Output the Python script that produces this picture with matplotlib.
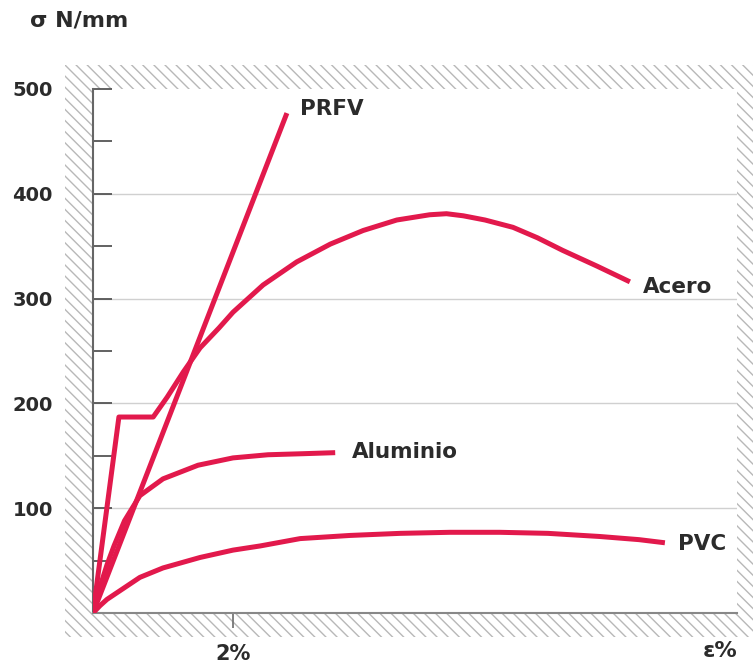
import matplotlib
matplotlib.use('Agg')
import matplotlib.pyplot as plt
import matplotlib.patches as mpatches

# ==========================================
# DATA (strain %, stress N/mm2)
# ==========================================
prfv_x = [0, 2.77]
prfv_y = [0, 477]

acero_x = [0, 0.37, 0.86, 1.06, 1.29, 1.53, 1.8, 2.0, 2.43, 2.91, 3.39, 3.86,
           4.34, 4.81, 5.05, 5.29, 5.6, 6.0, 6.35, 6.71, 7.2, 7.67]
acero_y = [0, 187, 187, 206, 230, 253, 272, 287, 313, 335, 352, 365,
           375, 380, 381, 379, 375, 368, 358, 346, 331, 316]

alu_x = [0, 0.1, 0.2, 0.3, 0.45, 0.67, 1.0, 1.5, 2.0, 2.5, 3.0, 3.46]
alu_y = [0, 25, 46, 64, 88, 112, 128, 141, 148, 151, 152, 153]

pvc_x = [0, 0.1, 0.2, 0.67, 1.0, 1.53, 2.0, 2.39, 2.96, 3.67, 4.39, 5.1,
         5.81, 6.5, 7.24, 7.8, 8.17]
pvc_y = [0, 7, 13, 34, 43, 53, 60, 64, 71, 74, 76, 77,
         77, 76, 73, 70, 67]

labels = ['PRFV', 'Acero', 'Aluminio', 'PVC']
label_pos = [(2.95, 481), (7.85, 311), (3.7, 154), (8.35, 66)]

RED = '#e2194c'
TXT = '#2b2b2b'

# ==========================================
# FIGURE
# ==========================================
plt.rcParams['hatch.color'] = '#b8b8b8'
plt.rcParams['hatch.linewidth'] = 1.0

W, H = 753, 664
fig = plt.figure(figsize=(W / 100, H / 100), dpi=100)
L, R, T, B = 93, 737, 89, 613
ax = fig.add_axes([L / W, (H - B) / H, (R - L) / W, (B - T) / H])

# hatched frame around the plot area
fw, fh = R - L, B - T
bands = [
    (-28 / fw, -24 / fh, 28 / fw, 1 + 48 / fh),       # left
    (1, -24 / fh, 16 / fw, 1 + 48 / fh),              # right
    (0, 1, 1, 24 / fh),                               # top
    (0, -24 / fh, 1, 24 / fh),                        # bottom
]
for x0, y0, w, h in bands:
    ax.add_patch(mpatches.Rectangle((x0, y0), w, h, transform=ax.transAxes,
                                    facecolor='white', edgecolor='#b8b8b8',
                                    hatch='\\\\\\', linewidth=0, clip_on=False,
                                    zorder=0))

ax.set_xlim(0, 9.2)
ax.set_ylim(0, 500)

for y in [100, 200, 300, 400]:
    ax.axhline(y, color='#d0d0d0', linewidth=1.0, zorder=1)

for xs, ys in [(prfv_x, prfv_y), (acero_x, acero_y), (alu_x, alu_y), (pvc_x, pvc_y)]:
    ax.plot(xs, ys, color=RED, linewidth=3.6, solid_joinstyle='round',
            solid_capstyle='butt', zorder=3)

for lab, (x, y) in zip(labels, label_pos):
    ax.text(x, y, lab, fontsize=15.5, fontweight='bold', color=TXT,
            ha='left', va='center')

# axes styling
for s in ['top', 'right']:
    ax.spines[s].set_visible(False)
ax.spines['left'].set_color('#666666')
ax.spines['left'].set_linewidth(1.5)
ax.spines['bottom'].set_color('#888888')
ax.spines['bottom'].set_linewidth(1.5)

ax.set_yticks([100, 200, 300, 400, 500], ['100', '200', '300', '400', '500'])
ax.set_yticks([50, 150, 250, 350, 450], minor=True)
ax.tick_params(axis='y', which='both', direction='in', length=14, width=1.3,
               color='#555555', pad=29, labelsize=14, labelcolor=TXT)
ax.set_xticks([2], ['2%'])
ax.tick_params(axis='x', direction='out', length=11, width=1.3,
               color='#777777', pad=11, labelsize=15, labelcolor=TXT)
for t in ax.get_xticklabels() + ax.get_yticklabels():
    t.set_fontweight('bold')

ax.text(8.96, -38 / fh * 500, 'ε%', fontsize=16, fontweight='bold', color=TXT,
        ha='center', va='center')
fig.text(30 / W, 1 - 20 / H, 'σ N/mm', fontsize=16, fontweight='bold', color=TXT,
         ha='left', va='center')

fig.savefig('out.png', dpi=100)
